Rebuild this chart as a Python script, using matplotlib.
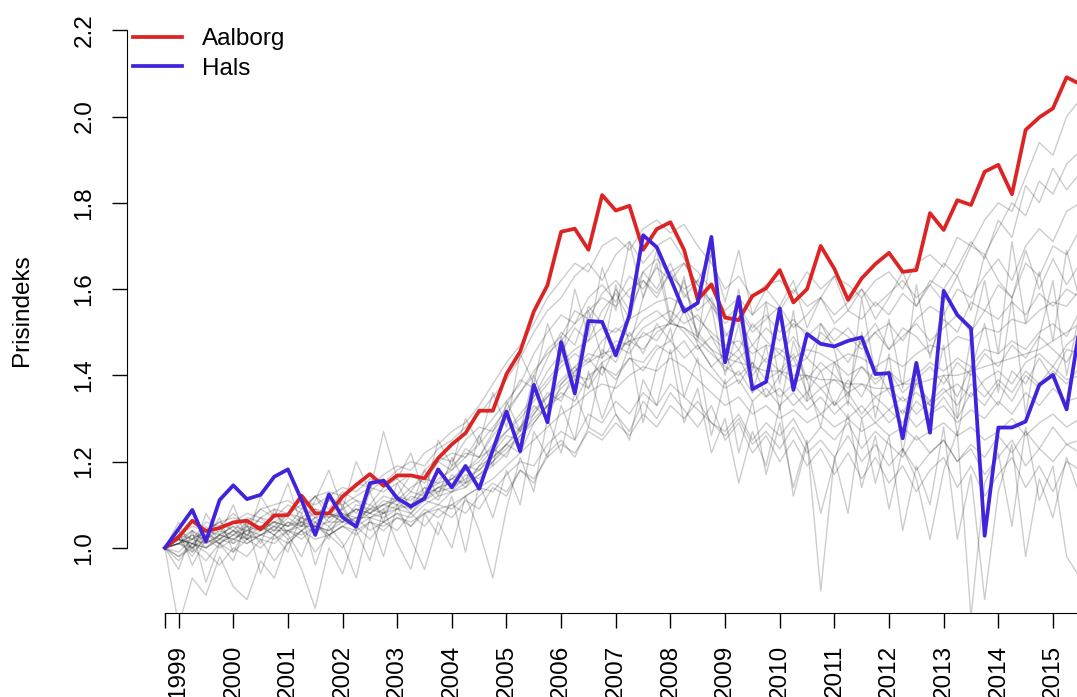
import numpy as np
import matplotlib
matplotlib.use("Agg")
import matplotlib.pyplot as plt

plt.rcParams['font.family'] = ['Liberation Sans', 'DejaVu Sans']

# quarterly price index, 1998 Q4 = 1.0
quarters = 1998.75 + np.arange(68) / 4
years = list(range(1999, 2016))

aalborg = [1.00, 1.025, 1.063, 1.039, 1.046,
           1.059, 1.063, 1.043, 1.075,
           1.076, 1.121, 1.080, 1.080,
           1.119, 1.146, 1.171, 1.144,
           1.168, 1.168, 1.161, 1.208,
           1.240, 1.266, 1.318, 1.318,
           1.403, 1.455, 1.548, 1.609,
           1.733, 1.740, 1.691, 1.818,
           1.782, 1.793, 1.691, 1.739,
           1.755, 1.691, 1.575, 1.611,
           1.534, 1.528, 1.584, 1.602,
           1.644, 1.569, 1.600, 1.700,
           1.647, 1.575, 1.625, 1.658,
           1.684, 1.640, 1.644, 1.776,
           1.737, 1.806, 1.795, 1.872,
           1.888, 1.820, 1.969, 1.998,
           2.019, 2.091, 2.075]

hals = [1.00, 1.044, 1.088, 1.015, 1.111,
        1.145, 1.113, 1.123, 1.165,
        1.182, 1.111, 1.030, 1.124,
        1.071, 1.049, 1.150, 1.156,
        1.115, 1.096, 1.115, 1.182,
        1.140, 1.190, 1.137, 1.227,
        1.316, 1.224, 1.378, 1.291,
        1.477, 1.358, 1.526, 1.524,
        1.446, 1.540, 1.725, 1.697,
        1.625, 1.548, 1.568, 1.721,
        1.430, 1.582, 1.368, 1.385,
        1.555, 1.366, 1.496, 1.473,
        1.467, 1.480, 1.488, 1.403,
        1.405, 1.254, 1.429, 1.267,
        1.596, 1.540, 1.509, 1.028,
        1.279, 1.279, 1.293, 1.378,
        1.401, 1.321, 1.52]

# the other towns in the municipality
others = [
    [1.00, 1.03, 1.05, 1.04, 1.06, 1.07, 1.06, 1.09, 1.10, 1.11, 1.09, 1.12, 1.13,
     1.12, 1.15, 1.14, 1.17, 1.19, 1.18, 1.22, 1.24, 1.27, 1.29, 1.33, 1.38,
     1.43, 1.47, 1.52, 1.58, 1.62, 1.66, 1.64, 1.70, 1.72, 1.69, 1.74, 1.76,
     1.73, 1.75, 1.70, 1.66, 1.60, 1.63, 1.58, 1.61, 1.62, 1.59, 1.64, 1.60,
     1.63, 1.61, 1.58, 1.62, 1.64, 1.60, 1.66, 1.68, 1.65, 1.72, 1.70, 1.76,
     1.80, 1.78, 1.86, 1.94, 1.91, 2.00, 2.04],
    [1.00, 1.01, 1.04, 1.02, 1.05, 1.06, 1.08, 1.07, 1.09, 1.08, 1.11, 1.10, 1.12,
     1.14, 1.13, 1.16, 1.15, 1.18, 1.20, 1.19, 1.23, 1.25, 1.28, 1.31, 1.35,
     1.39, 1.44, 1.50, 1.55, 1.58, 1.63, 1.66, 1.62, 1.68, 1.71, 1.66, 1.70,
     1.72, 1.67, 1.64, 1.60, 1.55, 1.58, 1.54, 1.57, 1.55, 1.60, 1.56, 1.58,
     1.54, 1.57, 1.60, 1.56, 1.59, 1.62, 1.58, 1.61, 1.66, 1.63, 1.70, 1.68,
     1.74, 1.80, 1.77, 1.85, 1.82, 1.89, 1.92],
    [1.00, 1.02, 1.01, 1.04, 1.03, 1.05, 1.04, 1.07, 1.06, 1.08, 1.10, 1.07, 1.11,
     1.10, 1.12, 1.14, 1.13, 1.15, 1.17, 1.16, 1.20, 1.22, 1.21, 1.26, 1.30,
     1.34, 1.38, 1.45, 1.50, 1.54, 1.52, 1.58, 1.61, 1.57, 1.63, 1.60, 1.65,
     1.62, 1.66, 1.61, 1.56, 1.52, 1.55, 1.50, 1.53, 1.56, 1.51, 1.54, 1.58,
     1.52, 1.55, 1.53, 1.57, 1.54, 1.59, 1.56, 1.62, 1.60, 1.65, 1.71, 1.67,
     1.76, 1.72, 1.84, 1.80, 1.88, 1.83, 1.87],
    [1.00, 0.99, 1.02, 1.04, 1.01, 1.03, 1.06, 1.05, 1.04, 1.07, 1.05, 1.09, 1.08,
     1.06, 1.10, 1.09, 1.12, 1.11, 1.14, 1.16, 1.15, 1.19, 1.22, 1.21, 1.27,
     1.31, 1.36, 1.40, 1.46, 1.49, 1.55, 1.53, 1.59, 1.62, 1.58, 1.64, 1.67,
     1.63, 1.60, 1.62, 1.57, 1.49, 1.53, 1.47, 1.51, 1.48, 1.52, 1.50, 1.47,
     1.51, 1.49, 1.46, 1.50, 1.52, 1.48, 1.53, 1.56, 1.54, 1.60, 1.58, 1.63,
     1.67, 1.62, 1.70, 1.74, 1.71, 1.78, 1.80],
    [1.00, 1.04, 1.02, 1.06, 1.05, 1.08, 1.05, 1.09, 1.07, 1.10, 1.08, 1.12, 1.09,
     1.13, 1.11, 1.10, 1.14, 1.16, 1.13, 1.18, 1.21, 1.20, 1.25, 1.28, 1.27,
     1.33, 1.39, 1.37, 1.44, 1.50, 1.47, 1.56, 1.52, 1.60, 1.55, 1.62, 1.58,
     1.64, 1.59, 1.55, 1.58, 1.50, 1.46, 1.52, 1.48, 1.45, 1.49, 1.44, 1.50,
     1.47, 1.43, 1.48, 1.52, 1.46, 1.51, 1.49, 1.45, 1.53, 1.50, 1.57, 1.55,
     1.61, 1.58, 1.66, 1.63, 1.70, 1.68, 1.74],
    [1.00, 1.02, 0.98, 1.03, 1.05, 1.01, 1.06, 1.04, 1.08, 1.05, 1.09, 1.12, 1.07,
     1.11, 1.08, 1.13, 1.16, 1.12, 1.17, 1.15, 1.20, 1.18, 1.23, 1.21, 1.26,
     1.30, 1.27, 1.35, 1.41, 1.45, 1.51, 1.48, 1.55, 1.59, 1.53, 1.64, 1.60,
     1.66, 1.58, 1.62, 1.68, 1.57, 1.69, 1.54, 1.60, 1.56, 1.62, 1.51, 1.58,
     1.63, 1.55, 1.60, 1.53, 1.58, 1.64, 1.56, 1.61, 1.57, 1.63, 1.55, 1.68,
     1.62, 1.58, 1.69, 1.60, 1.67, 1.61, 1.66],
    [1.00, 1.01, 1.03, 1.02, 1.04, 1.03, 1.05, 1.04, 1.06, 1.05, 1.07, 1.06, 1.08,
     1.07, 1.09, 1.08, 1.10, 1.11, 1.10, 1.13, 1.15, 1.16, 1.18, 1.20, 1.24,
     1.27, 1.31, 1.35, 1.39, 1.43, 1.46, 1.48, 1.51, 1.50, 1.53, 1.55, 1.57,
     1.58, 1.56, 1.53, 1.50, 1.47, 1.48, 1.45, 1.47, 1.46, 1.44, 1.46, 1.45,
     1.43, 1.45, 1.44, 1.42, 1.44, 1.42, 1.45, 1.47, 1.46, 1.49, 1.48, 1.51,
     1.50, 1.53, 1.52, 1.55, 1.57, 1.56, 1.60],
    [1.00, 1.02, 1.01, 1.03, 1.02, 1.04, 1.03, 1.05, 1.06, 1.05, 1.06, 1.08, 1.07,
     1.08, 1.07, 1.09, 1.10, 1.09, 1.12, 1.11, 1.14, 1.16, 1.15, 1.19, 1.21,
     1.24, 1.27, 1.32, 1.35, 1.39, 1.42, 1.45, 1.44, 1.48, 1.47, 1.51, 1.53,
     1.55, 1.52, 1.54, 1.49, 1.46, 1.44, 1.47, 1.43, 1.45, 1.42, 1.44, 1.41,
     1.43, 1.40, 1.42, 1.39, 1.41, 1.38, 1.40, 1.43, 1.41, 1.44, 1.42, 1.46,
     1.45, 1.48, 1.46, 1.50, 1.52, 1.49, 1.55],
    [1.00, 0.98, 1.01, 1.00, 1.02, 1.01, 1.03, 1.02, 1.01, 1.04, 1.03, 1.05, 1.04,
     1.06, 1.05, 1.07, 1.06, 1.08, 1.07, 1.10, 1.12, 1.13, 1.15, 1.17, 1.20,
     1.23, 1.26, 1.30, 1.33, 1.37, 1.40, 1.39, 1.43, 1.45, 1.48, 1.46, 1.50,
     1.52, 1.51, 1.48, 1.45, 1.42, 1.40, 1.43, 1.39, 1.41, 1.38, 1.40, 1.37,
     1.39, 1.36, 1.38, 1.35, 1.37, 1.34, 1.36, 1.33, 1.36, 1.38, 1.35, 1.39,
     1.41, 1.38, 1.43, 1.45, 1.42, 1.47, 1.50],
    [1.00, 1.03, 1.00, 1.05, 1.02, 1.06, 1.03, 1.07, 1.04, 1.08, 1.06, 1.03, 1.07,
     1.09, 1.05, 1.10, 1.08, 1.12, 1.09, 1.14, 1.11, 1.17, 1.14, 1.19, 1.23,
     1.21, 1.28, 1.33, 1.30, 1.38, 1.42, 1.37, 1.46, 1.43, 1.50, 1.45, 1.52,
     1.48, 1.55, 1.47, 1.42, 1.45, 1.38, 1.43, 1.35, 1.40, 1.44, 1.36, 1.41,
     1.33, 1.39, 1.35, 1.42, 1.36, 1.31, 1.38, 1.34, 1.40, 1.35, 1.42, 1.37,
     1.33, 1.41, 1.38, 1.44, 1.39, 1.46, 1.45],
    [1.00, 1.01, 1.02, 1.01, 1.03, 1.02, 1.04, 1.05, 1.03, 1.06, 1.05, 1.07, 1.08,
     1.07, 1.09, 1.08, 1.11, 1.10, 1.13, 1.12, 1.16, 1.18, 1.21, 1.24, 1.28,
     1.32, 1.36, 1.41, 1.45, 1.48, 1.52, 1.55, 1.58, 1.56, 1.60, 1.62, 1.59,
     1.64, 1.66, 1.61, 1.57, 1.53, 1.56, 1.51, 1.54, 1.50, 1.53, 1.49, 1.52,
     1.48, 1.51, 1.47, 1.50, 1.46, 1.49, 1.52, 1.48, 1.51, 1.54, 1.50, 1.55,
     1.53, 1.57, 1.54, 1.59, 1.56, 1.60, 1.58],
    [1.00, 1.02, 1.04, 1.01, 1.03, 1.05, 1.02, 1.04, 1.06, 1.03, 1.07, 1.05, 1.08,
     1.06, 1.09, 1.07, 1.09, 1.11, 1.08, 1.12, 1.14, 1.13, 1.17, 1.16, 1.20,
     1.24, 1.22, 1.29, 1.33, 1.36, 1.34, 1.40, 1.42, 1.39, 1.44, 1.41, 1.46,
     1.48, 1.44, 1.47, 1.42, 1.38, 1.41, 1.36, 1.39, 1.35, 1.38, 1.34, 1.37,
     1.33, 1.36, 1.31, 1.35, 1.32, 1.29, 1.34, 1.31, 1.35, 1.30, 1.36, 1.33,
     1.38, 1.34, 1.40, 1.37, 1.41, 1.38, 1.42],
    [1.00, 1.01, 1.00, 1.02, 1.01, 1.03, 1.02, 1.03, 1.04, 1.04, 1.05, 1.05, 1.06,
     1.06, 1.07, 1.07, 1.08, 1.09, 1.10, 1.11, 1.13, 1.14, 1.16, 1.18, 1.21,
     1.24, 1.28, 1.31, 1.35, 1.38, 1.41, 1.43, 1.45, 1.46, 1.48, 1.49, 1.51,
     1.52, 1.51, 1.49, 1.46, 1.44, 1.43, 1.42, 1.41, 1.41, 1.40, 1.40, 1.39,
     1.39, 1.38, 1.38, 1.37, 1.37, 1.38, 1.38, 1.39, 1.40, 1.40, 1.41, 1.42,
     1.43, 1.44, 1.45, 1.46, 1.48, 1.50, 1.52],
    [1.00, 1.03, 1.02, 1.04, 1.06, 1.04, 1.07, 1.06, 1.05, 1.08, 1.07, 1.09, 1.06,
     1.09, 1.11, 1.08, 1.10, 1.12, 1.11, 1.14, 1.13, 1.16, 1.19, 1.18, 1.22,
     1.26, 1.25, 1.31, 1.36, 1.34, 1.41, 1.44, 1.40, 1.47, 1.45, 1.50, 1.48,
     1.53, 1.50, 1.46, 1.49, 1.43, 1.46, 1.40, 1.44, 1.41, 1.45, 1.39, 1.43,
     1.40, 1.37, 1.42, 1.38, 1.41, 1.36, 1.39, 1.42, 1.38, 1.43, 1.40, 1.45,
     1.42, 1.47, 1.44, 1.49, 1.46, 1.43, 1.48],
    [1.00, 1.01, 0.99, 1.02, 1.00, 1.02, 1.01, 1.03, 1.02, 1.04, 1.02, 1.05, 1.03,
     1.05, 1.04, 1.06, 1.05, 1.07, 1.06, 1.08, 1.09, 1.10, 1.12, 1.14, 1.16,
     1.19, 1.22, 1.25, 1.28, 1.31, 1.33, 1.36, 1.38, 1.37, 1.40, 1.42, 1.41,
     1.44, 1.42, 1.39, 1.36, 1.33, 1.35, 1.31, 1.33, 1.30, 1.32, 1.29, 1.31,
     1.28, 1.30, 1.27, 1.29, 1.26, 1.28, 1.25, 1.27, 1.29, 1.26, 1.28, 1.25,
     1.27, 1.30, 1.26, 1.29, 1.31, 1.28, 1.30],
    [1.00, 0.98, 1.00, 0.97, 1.01, 0.99, 1.02, 1.00, 1.03, 1.01, 1.04, 1.02, 1.03,
     1.05, 1.03, 1.06, 1.04, 1.07, 1.05, 1.08, 1.10, 1.09, 1.12, 1.14, 1.13,
     1.17, 1.20, 1.19, 1.24, 1.27, 1.25, 1.31, 1.29, 1.34, 1.31, 1.36, 1.33,
     1.38, 1.35, 1.32, 1.29, 1.26, 1.30, 1.24, 1.27, 1.23, 1.28, 1.22, 1.25,
     1.21, 1.26, 1.20, 1.24, 1.19, 1.23, 1.18, 1.22, 1.25, 1.20, 1.23, 1.17,
     1.21, 1.25, 1.19, 1.23, 1.20, 1.24, 1.22],
    [1.00, 1.02, 1.01, 1.00, 1.03, 1.02, 1.04, 1.03, 1.05, 1.04, 1.06, 1.05, 1.04,
     1.07, 1.06, 1.08, 1.07, 1.09, 1.08, 1.11, 1.10, 1.13, 1.14, 1.17, 1.19,
     1.22, 1.26, 1.29, 1.33, 1.35, 1.39, 1.37, 1.42, 1.40, 1.44, 1.43, 1.47,
     1.45, 1.48, 1.43, 1.40, 1.37, 1.39, 1.34, 1.37, 1.33, 1.36, 1.32, 1.35,
     1.31, 1.34, 1.30, 1.33, 1.29, 1.32, 1.28, 1.31, 1.33, 1.29, 1.32, 1.30,
     1.34, 1.31, 1.36, 1.33, 1.37, 1.34, 1.35],
    [1.00, 0.97, 1.01, 0.99, 0.96, 1.00, 0.98, 1.02, 0.97, 1.01, 1.04, 0.99, 1.03,
     1.00, 1.05, 1.02, 1.06, 1.04, 1.08, 1.05, 1.09, 1.07, 1.11, 1.09, 1.14,
     1.12, 1.18, 1.15, 1.22, 1.25, 1.21, 1.28, 1.26, 1.31, 1.27, 1.34, 1.30,
     1.36, 1.32, 1.28, 1.33, 1.25, 1.29, 1.22, 1.26, 1.20, 1.25, 1.19, 1.23,
     1.17, 1.22, 1.16, 1.21, 1.15, 1.19, 1.13, 1.18, 1.21, 1.14, 1.19, 1.12,
     1.17, 1.21, 1.14, 1.19, 1.13, 1.20, 1.18],
    [1.00, 1.01, 1.03, 1.00, 1.02, 1.04, 1.01, 1.03, 1.05, 1.02, 1.04, 1.06, 1.03,
     1.05, 1.07, 1.04, 1.06, 1.08, 1.05, 1.09, 1.07, 1.10, 1.08, 1.12, 1.15,
     1.13, 1.18, 1.16, 1.21, 1.24, 1.22, 1.27, 1.25, 1.29, 1.26, 1.31, 1.28,
     1.33, 1.30, 1.34, 1.29, 1.27, 1.31, 1.25, 1.29, 1.26, 1.30, 1.24, 1.28,
     1.25, 1.29, 1.23, 1.27, 1.24, 1.21, 1.26, 1.22, 1.25, 1.20, 1.24, 1.21,
     1.26, 1.22, 1.27, 1.23, 1.28, 1.24, 1.25],
    [1.00, 1.02, 1.00, 1.03, 1.01, 1.04, 1.02, 1.05, 1.03, 1.06, 1.04, 1.07, 1.05,
     1.08, 1.06, 1.09, 1.08, 1.10, 1.09, 1.12, 1.14, 1.15, 1.18, 1.21, 1.23,
     1.27, 1.30, 1.34, 1.38, 1.42, 1.45, 1.43, 1.48, 1.51, 1.49, 1.53, 1.55,
     1.52, 1.56, 1.50, 1.46, 1.41, 1.44, 1.38, 1.35, 1.37, 1.33, 1.36, 1.31,
     1.34, 1.30, 1.33, 1.29, 1.32, 1.35, 1.31, 1.34, 1.37, 1.33, 1.38, 1.35,
     1.39, 1.36, 1.41, 1.38, 1.42, 1.39, 1.40],
    [1.00, 0.82, 0.93, 0.89, 0.98, 0.91, 0.88, 0.97, 0.93, 1.02, 0.95, 0.86, 1.00,
     0.94, 1.04, 0.97, 1.09, 1.01, 0.95, 1.08, 1.03, 1.12, 0.99, 1.15, 1.07,
     1.18, 1.10, 1.27, 1.21, 1.33, 1.25, 1.41, 1.30, 1.38, 1.47, 1.29, 1.42,
     1.51, 1.35, 1.44, 1.26, 1.39, 1.22, 1.34, 1.17, 1.29, 1.14, 1.25, 0.90,
     1.21, 1.08, 1.30, 1.15, 1.26, 1.04, 1.19, 1.10, 1.28, 1.02, 1.17, 0.88,
     1.13, 1.24, 0.98, 1.16, 1.07, 1.21, 1.12],
    [1.00, 1.06, 0.99, 1.08, 1.03, 1.10, 1.02, 1.12, 1.07, 1.15, 1.05, 1.11, 1.18,
     1.09, 1.20, 1.13, 1.27, 1.16, 1.22, 1.12, 1.25, 1.19, 1.30, 1.24, 1.36,
     1.28, 1.45, 1.38, 1.52, 1.43, 1.60, 1.49, 1.65, 1.55, 1.71, 1.58, 1.66,
     1.52, 1.63, 1.48, 1.69, 1.45, 1.60, 1.41, 1.57, 1.38, 1.55, 1.34, 1.52,
     1.46, 1.33, 1.58, 1.40, 1.53, 1.37, 1.61, 1.44, 1.56, 1.30, 1.49, 1.62,
     1.45, 1.71, 1.52, 1.64, 1.48, 1.69, 1.57],
    [1.00, 0.95, 1.04, 0.92, 1.01, 0.97, 1.06, 0.94, 1.03, 0.99, 1.08, 0.96, 1.05,
     1.01, 0.93, 1.07, 0.98, 1.10, 1.02, 0.95, 1.06, 1.00, 1.12, 1.04, 0.93,
     1.09, 1.21, 1.13, 1.30, 1.22, 1.36, 1.28, 1.43, 1.31, 1.25, 1.39, 1.33,
     1.46, 1.29, 1.37, 1.22, 1.30, 1.15, 1.27, 1.19, 1.33, 1.12, 1.24, 1.08,
     1.20, 1.31, 1.14, 1.26, 1.09, 1.23, 1.16, 1.02, 1.18, 1.27, 0.84, 1.15,
     1.22, 1.05, 1.28, 1.11, 1.19, 0.98, 0.93],
    [1.00, 1.04, 0.96, 1.02, 1.07, 0.99, 1.05, 1.01, 1.09, 1.03, 0.98, 1.06, 1.02,
     1.10, 1.04, 1.13, 1.06, 1.15, 1.09, 1.18, 1.12, 1.21, 1.15, 1.26, 1.19,
     1.34, 1.27, 1.40, 1.32, 1.49, 1.39, 1.55, 1.44, 1.61, 1.47, 1.58, 1.69,
     1.53, 1.62, 1.49, 1.56, 1.40, 1.52, 1.36, 1.47, 1.32, 1.48, 1.39, 1.28,
     1.43, 1.35, 1.50, 1.30, 1.45, 1.22, 1.39, 1.33, 1.47, 1.26, 1.41, 1.52,
     1.36, 1.58, 1.31, 1.49, 1.62, 1.40, 1.55],
]

fig, ax = plt.subplots(figsize=(10.77, 6.97), dpi=100)
fig.subplots_adjust(left=0.1179, right=1.0, bottom=0.1205, top=0.99)

for town in others:
    ax.plot(quarters, town, color='black', alpha=0.2, lw=1.0)

ax.plot(quarters, aalborg, color='#DC2424', lw=2.7, label='Aalborg')
ax.plot(quarters, hals, color='#4222DC', lw=2.7, label='Hals')

ax.set_xlim(1998.055, 2015.44)
ax.set_ylim(0.849, 2.254)

# R-style axes: open box, axis lines only spanning the ticks
for side in ['top', 'right']:
    ax.spines[side].set_visible(False)
ax.spines['left'].set_bounds(1.0, 2.2)
ax.spines['bottom'].set_bounds(quarters[0], 2015.44)

ax.set_xticks([quarters[0]] + years)
ax.set_xticklabels([''] + [str(y) for y in years], rotation=90)
ax.set_yticks([1.0, 1.2, 1.4, 1.6, 1.8, 2.0, 2.2])
ax.set_yticklabels(['1.0', '1.2', '1.4', '1.6', '1.8', '2.0', '2.2'])
for lab in ax.get_yticklabels():
    lab.set_rotation(90)
    lab.set_va('center')

ax.tick_params(direction='out', length=10.8, width=1.0, labelsize=17.5)
ax.tick_params(axis='x', pad=12)
ax.tick_params(axis='y', pad=12)

fig.text(22 / 1077, 1 - 310 / 697, 'Prisindeks', rotation=90,
         ha='center', va='center', fontsize=17.5)

ax.legend(loc='upper left', bbox_to_anchor=(133 / 1077, 1 - 28 / 697),
          bbox_transform=fig.transFigure, frameon=False, fontsize=17.5,
          handlelength=2.0, handletextpad=0.85, labelspacing=0.32,
          borderpad=0, borderaxespad=0)

fig.savefig('out.png', dpi=100)
